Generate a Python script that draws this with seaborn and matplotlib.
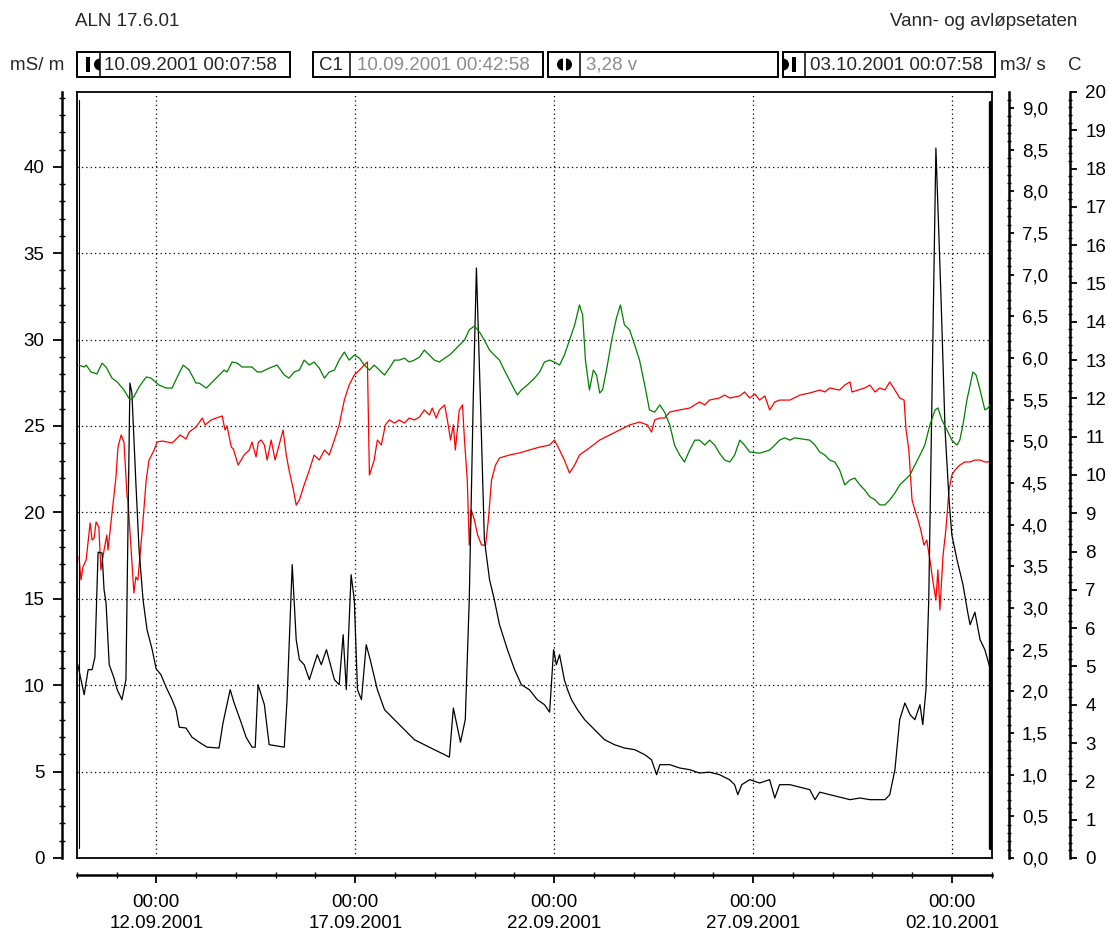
import pandas as pd
import numpy as np
import seaborn as sns
import matplotlib.pyplot as plt
import matplotlib.dates as mdates
from matplotlib.ticker import MultipleLocator, FuncFormatter, FixedLocator
from matplotlib.patches import Rectangle, Wedge

# time of each reading, days after 10.09.2001 00:07:58
t_flow = [0.02, 0.18, 0.28, 0.38, 0.45, 0.53, 0.63, 0.68, 0.73, 0.81,
          0.93, 1.01, 1.13, 1.23, 1.33, 1.38, 1.48, 1.56, 1.66, 1.76,
          1.89, 1.99, 2.11, 2.24, 2.39, 2.49, 2.57, 2.74, 2.89, 3.07,
          3.27, 3.57, 3.67, 3.85, 3.95, 4.13, 4.25, 4.40, 4.48, 4.55,
          4.71, 4.83, 5.21, 5.28, 5.41, 5.51, 5.59, 5.71, 5.84, 6.04,
          6.14, 6.27, 6.47, 6.59, 6.69, 6.77, 6.89, 6.97, 7.05, 7.15,
          7.27, 7.37, 7.55, 7.73, 7.98, 8.23, 8.48, 8.73, 8.98, 9.24,
          9.36, 9.46, 9.64, 9.76, 9.86, 9.96, 10.04, 10.14, 10.24, 10.37,
          10.49, 10.62, 10.82, 11.00, 11.17, 11.37, 11.57, 11.75, 11.88, 11.98,
          12.05, 12.13, 12.25, 12.33, 12.43, 12.58, 12.76, 13.01, 13.26, 13.51,
          13.76, 14.02, 14.27, 14.44, 14.57, 14.65, 14.90, 15.15, 15.40, 15.65,
          15.90, 16.15, 16.40, 16.53, 16.61, 16.71, 16.91, 17.16, 17.41, 17.54,
          17.66, 17.92, 18.17, 18.42, 18.55, 18.67, 18.92, 19.17, 19.43, 19.68,
          19.93, 20.31, 20.43, 20.56, 20.68, 20.81, 20.94, 21.06, 21.19, 21.26,
          21.34, 21.41, 21.49, 21.59, 21.72, 21.82, 21.92, 21.99, 22.12, 22.27,
          22.40, 22.45, 22.57, 22.70, 22.82, 22.95]
flow = [2.32, 1.96, 2.26, 2.26, 2.41, 3.67, 3.66, 3.22, 3.06, 2.32,
        2.16, 2.02, 1.90, 2.14, 5.70, 5.58, 4.50, 3.70, 3.10, 2.74,
        2.50, 2.27, 2.20, 2.05, 1.90, 1.78, 1.57, 1.56, 1.45, 1.39,
        1.33, 1.32, 1.62, 2.02, 1.86, 1.62, 1.45, 1.33, 1.33, 2.08,
        1.84, 1.36, 1.33, 1.90, 3.52, 2.62, 2.38, 2.32, 2.14, 2.44,
        2.32, 2.50, 2.14, 2.08, 2.68, 2.02, 3.40, 3.10, 2.02, 1.90,
        2.56, 2.38, 2.02, 1.78, 1.66, 1.54, 1.42, 1.36, 1.30, 1.24,
        1.21, 1.80, 1.39, 1.66, 3.10, 5.50, 7.08, 5.50, 3.82, 3.34,
        3.10, 2.80, 2.50, 2.26, 2.08, 2.02, 1.90, 1.84, 1.75, 2.50,
        2.32, 2.44, 2.14, 2.02, 1.90, 1.78, 1.66, 1.54, 1.42, 1.36,
        1.32, 1.30, 1.24, 1.18, 1.00, 1.12, 1.12, 1.08, 1.06, 1.02,
        1.03, 1.00, 0.94, 0.88, 0.76, 0.88, 0.94, 0.90, 0.94, 0.72,
        0.88, 0.88, 0.85, 0.82, 0.70, 0.79, 0.76, 0.73, 0.70, 0.72,
        0.70, 0.70, 0.76, 1.06, 1.66, 1.86, 1.72, 1.66, 1.84, 1.60,
        2.02, 3.10, 5.50, 8.52, 6.70, 5.14, 4.30, 3.88, 3.58, 3.28,
        2.92, 2.80, 2.95, 2.62, 2.50, 2.28]

t_cond = [0.05, 0.10, 0.15, 0.23, 0.33, 0.38, 0.43, 0.48, 0.55, 0.60,
          0.68, 0.75, 0.78, 0.88, 0.98, 1.03, 1.11, 1.18, 1.26, 1.28,
          1.36, 1.43, 1.48, 1.53, 1.64, 1.74, 1.81, 1.94, 2.01, 2.14,
          2.39, 2.47, 2.59, 2.74, 2.82, 2.99, 3.15, 3.22, 3.37, 3.50,
          3.65, 3.72, 3.77, 3.88, 3.93, 4.05, 4.20, 4.33, 4.40, 4.50,
          4.56, 4.63, 4.71, 4.78, 4.88, 4.98, 5.08, 5.18, 5.26, 5.33,
          5.44, 5.51, 5.59, 5.71, 5.84, 5.96, 6.09, 6.22, 6.34, 6.47,
          6.59, 6.72, 6.84, 6.97, 7.10, 7.22, 7.30, 7.35, 7.47, 7.55,
          7.65, 7.75, 7.85, 7.98, 8.10, 8.23, 8.35, 8.48, 8.61, 8.73,
          8.86, 8.93, 9.03, 9.11, 9.24, 9.31, 9.39, 9.46, 9.51, 9.56,
          9.61, 9.69, 9.74, 9.81, 9.86, 9.91, 9.99, 10.07, 10.17, 10.27,
          10.34, 10.42, 10.52, 10.62, 10.87, 11.12, 11.37, 11.63, 11.88, 12.00,
          12.13, 12.25, 12.38, 12.51, 12.63, 12.88, 13.14, 13.39, 13.64, 13.89,
          14.14, 14.34, 14.44, 14.52, 14.65, 14.77, 14.90, 15.15, 15.40, 15.65,
          15.78, 15.90, 16.15, 16.28, 16.41, 16.66, 16.78, 16.91, 17.04, 17.16,
          17.29, 17.41, 17.54, 17.66, 17.92, 18.17, 18.42, 18.67, 18.80, 18.92,
          19.17, 19.30, 19.43, 19.48, 19.63, 19.80, 19.93, 20.06, 20.18, 20.31,
          20.43, 20.56, 20.68, 20.79, 20.84, 20.91, 20.99, 21.06, 21.14, 21.21,
          21.29, 21.36, 21.44, 21.51, 21.59, 21.64, 21.69, 21.77, 21.84, 21.92,
          21.99, 22.07, 22.19, 22.32, 22.45, 22.57, 22.70, 22.82, 22.95]
cond = [17.42, 16.09, 16.84, 17.25, 19.39, 18.40, 18.52, 19.44, 19.15, 16.67,
        17.82, 18.69, 17.82, 19.97, 22.05, 23.78, 24.48, 24.07, 20.89, 20.72,
        17.82, 15.34, 16.26, 16.09, 18.98, 21.88, 23.03, 23.61, 24.07, 24.13,
        24.02, 24.19, 24.48, 24.25, 24.65, 24.94, 25.46, 25.06, 25.35, 25.46,
        25.58, 24.77, 25.00, 23.78, 23.67, 22.74, 23.32, 23.61, 24.07, 23.21,
        24.07, 24.19, 23.90, 23.03, 24.19, 23.03, 23.90, 24.77, 23.32, 22.45,
        21.30, 20.43, 20.72, 21.59, 22.45, 23.32, 23.03, 23.61, 23.32, 24.19,
        25.06, 26.50, 27.37, 27.95, 28.24, 28.53, 28.70, 22.16, 23.03, 24.19,
        23.90, 25.06, 25.35, 25.17, 25.35, 25.17, 25.46, 25.35, 25.52, 25.93,
        25.64, 26.04, 25.46, 25.93, 26.22, 25.35, 24.19, 25.06, 23.61, 24.77,
        25.93, 26.22, 24.19, 21.88, 18.11, 20.14, 19.56, 18.69, 18.11, 18.11,
        19.56, 21.88, 22.74, 23.15, 23.32, 23.44, 23.61, 23.78, 23.90, 24.19,
        23.61, 23.03, 22.28, 22.74, 23.32, 23.73, 24.19, 24.48, 24.77, 25.06,
        25.23, 25.06, 24.65, 25.35, 25.46, 25.46, 25.81, 25.93, 26.04, 26.39,
        26.22, 26.50, 26.62, 26.79, 26.62, 26.74, 26.97, 26.62, 26.85, 26.50,
        26.74, 25.93, 26.39, 26.50, 26.50, 26.79, 26.91, 27.08, 26.97, 27.20,
        27.08, 27.37, 27.55, 26.97, 27.08, 27.20, 27.37, 26.97, 27.20, 27.08,
        27.55, 27.08, 26.62, 26.50, 24.77, 23.61, 20.72, 20.14, 19.56, 18.98,
        18.11, 18.40, 17.25, 16.09, 14.93, 16.67, 14.35, 17.53, 18.98, 21.30,
        22.16, 22.45, 22.74, 22.92, 22.92, 23.03, 23.03, 22.92, 22.92]

t_temp = [0.05, 0.18, 0.23, 0.35, 0.50, 0.63, 0.73, 0.88, 1.01, 1.18,
          1.33, 1.43, 1.56, 1.74, 1.86, 2.06, 2.24, 2.39, 2.52, 2.67,
          2.82, 2.99, 3.07, 3.25, 3.50, 3.70, 3.77, 3.90, 4.03, 4.15,
          4.40, 4.53, 4.63, 4.83, 5.03, 5.21, 5.33, 5.46, 5.59, 5.71,
          5.84, 5.96, 6.09, 6.22, 6.34, 6.47, 6.59, 6.72, 6.84, 6.97,
          7.10, 7.22, 7.35, 7.47, 7.60, 7.73, 7.85, 7.98, 8.10, 8.23,
          8.35, 8.48, 8.61, 8.73, 8.86, 8.98, 9.11, 9.24, 9.36, 9.49,
          9.61, 9.74, 9.86, 9.99, 10.12, 10.24, 10.37, 10.49, 10.62, 10.74,
          10.87, 11.00, 11.07, 11.17, 11.32, 11.50, 11.63, 11.75, 11.88, 12.00,
          12.13, 12.25, 12.38, 12.51, 12.63, 12.71, 12.78, 12.88, 12.98, 13.06,
          13.14, 13.21, 13.31, 13.44, 13.56, 13.66, 13.76, 13.89, 14.02, 14.14,
          14.27, 14.39, 14.52, 14.65, 14.77, 14.90, 15.02, 15.15, 15.27, 15.40,
          15.53, 15.65, 15.78, 15.90, 16.03, 16.15, 16.28, 16.41, 16.53, 16.66,
          16.78, 16.91, 17.16, 17.41, 17.54, 17.66, 17.79, 17.92, 18.04, 18.42,
          18.55, 18.67, 18.80, 18.92, 19.05, 19.17, 19.30, 19.43, 19.55, 19.68,
          19.80, 19.93, 20.06, 20.18, 20.31, 20.43, 20.56, 20.68, 20.81, 20.94,
          21.06, 21.19, 21.31, 21.44, 21.57, 21.64, 21.74, 21.87, 21.99, 22.12,
          22.19, 22.27, 22.37, 22.45, 22.52, 22.60, 22.70, 22.82, 22.90, 22.95]
temp = [12.87, 12.82, 12.87, 12.69, 12.64, 12.92, 12.82, 12.53, 12.43, 12.22,
        11.96, 12.04, 12.30, 12.56, 12.53, 12.35, 12.27, 12.27, 12.56, 12.87,
        12.74, 12.40, 12.40, 12.27, 12.53, 12.74, 12.69, 12.95, 12.92, 12.82,
        12.82, 12.69, 12.69, 12.79, 12.87, 12.61, 12.53, 12.69, 12.74, 13.00,
        12.87, 12.95, 12.79, 12.53, 12.69, 12.74, 13.00, 13.21, 13.00, 13.13,
        13.05, 12.87, 12.74, 12.87, 12.74, 12.61, 12.79, 13.00, 13.00, 13.05,
        12.95, 13.00, 13.08, 13.26, 13.13, 13.00, 12.95, 13.05, 13.13, 13.26,
        13.39, 13.52, 13.79, 13.89, 13.73, 13.52, 13.26, 13.13, 13.00, 12.74,
        12.48, 12.22, 12.09, 12.22, 12.35, 12.53, 12.69, 12.95, 13.00, 12.95,
        12.87, 13.13, 13.52, 13.92, 14.44, 14.18, 13.00, 12.22, 12.74, 12.61,
        12.14, 12.22, 12.74, 13.52, 14.10, 14.44, 13.92, 13.79, 13.39, 13.00,
        12.35, 11.70, 11.64, 11.83, 11.64, 11.31, 10.78, 10.52, 10.34, 10.65,
        10.91, 10.91, 10.78, 10.91, 10.78, 10.57, 10.39, 10.34, 10.52, 10.91,
        10.78, 10.60, 10.57, 10.65, 10.78, 10.91, 10.97, 10.91, 10.97, 10.91,
        10.78, 10.60, 10.52, 10.39, 10.34, 10.13, 9.74, 9.87, 9.92, 9.74,
        9.61, 9.43, 9.35, 9.22, 9.22, 9.35, 9.53, 9.74, 9.87, 10.00,
        10.26, 10.52, 10.78, 11.31, 11.70, 11.75, 11.44, 11.17, 10.91, 10.78,
        10.91, 11.31, 11.96, 12.35, 12.69, 12.61, 12.22, 11.70, 11.75, 11.83]

start = pd.Timestamp('2001-09-10 00:07:58')
end = pd.Timestamp('2001-10-03 00:07:58')
cursor = pd.Timestamp('2001-09-10 00:42:58')

FS = 13.5


def to_time(days):
    return start + pd.to_timedelta(np.array(days), unit='D')


def comma(v, pos):
    return f'{v:.1f}'.replace('.', ',')


sns.set_theme(style='white')
plt.rcParams['font.family'] = ['Liberation Sans', 'DejaVu Sans']
plt.rcParams['font.size'] = FS

W, H = 1109, 936
fig = plt.figure(figsize=(W / 100, H / 100), dpi=100)
ax = fig.add_axes([77 / W, (H - 858) / H, 915 / W, 766 / H])

# conductivity on the main axes
sns.lineplot(x=to_time(t_cond), y=cond, ax=ax, color='#ff0000', lw=0.9, estimator=None)
ax.set_xlim(start, end)
ax.set_ylim(0, 766 / 17.28)
ax.xaxis.set_major_locator(mdates.DayLocator(bymonthday=[2, 12, 17, 22, 27]))
ax.yaxis.set_major_locator(MultipleLocator(5))
ax.grid(True, color='black', ls=(0, (1, 2.5)), lw=0.9)
ax.tick_params(which='both', length=0, labelleft=False, labelbottom=False)
ax.set_xlabel('')
ax.set_ylabel('')
for s in ax.spines.values():
    s.set_color('black')
    s.set_linewidth(1.3)

# cursor lines inside the box
ax.axvline(cursor + pd.Timedelta(hours=0.6), ymin=0.013, ymax=0.99, color='black', lw=0.8)
ax.axvline(end - pd.Timedelta(hours=1.4), ymin=0.013, ymax=0.987, color='black', lw=2.4)

# flow, m3/s
ax2 = ax.twinx()
sns.lineplot(x=to_time(t_flow), y=flow, ax=ax2, color='black', lw=0.9, estimator=None)
ax2.set_ylim(0, 766 / 83.33)

# temperature, C
ax3 = ax.twinx()
sns.lineplot(x=to_time(t_temp), y=temp, ax=ax3, color='#008000', lw=0.9, estimator=None)
ax3.set_ylim(0, 20)

for a, pos in [(ax2, 932 / 915), (ax3, 993 / 915)]:
    a.set_ylabel('')
    a.set_xlabel('')
    for s in ['left', 'top', 'bottom']:
        a.spines[s].set_visible(False)
    a.spines['right'].set_position(('axes', pos))
    a.spines['right'].set_color('black')
    a.spines['right'].set_linewidth(1.8)

ax2.yaxis.set_major_locator(MultipleLocator(0.5))
ax2.yaxis.set_minor_locator(MultipleLocator(0.1))
ax2.yaxis.set_major_formatter(FuncFormatter(comma))
ax2.tick_params(axis='y', which='major', direction='out', length=3.4, width=1.3, pad=6,
                colors='black', labelsize=FS, right=True)
ax2.tick_params(axis='y', which='minor', direction='inout', length=3.0, width=1.0, colors='black', right=True)

ax3.yaxis.set_major_locator(MultipleLocator(1))
ax3.yaxis.set_minor_locator(MultipleLocator(0.2))
ax3.yaxis.set_major_formatter(FuncFormatter(lambda v, p: f'{v:.0f}'))
ax3.tick_params(axis='y', which='major', direction='out', length=5.0, width=1.3, pad=6,
                colors='black', labelsize=FS, right=True)
ax3.tick_params(axis='y', which='minor', direction='inout', length=3.2, width=1.0, colors='black', right=True)

# left scale, mS/m
sy = ax.secondary_yaxis(-15 / 915)
sy.yaxis.set_major_locator(MultipleLocator(5))
sy.yaxis.set_minor_locator(MultipleLocator(1))
sy.yaxis.set_major_formatter(FuncFormatter(lambda v, p: f'{v:.0f}'))
sy.tick_params(which='major', direction='out', length=6.5, width=1.3, pad=6, colors='black', labelsize=FS)
sy.tick_params(which='minor', direction='inout', length=4.3, width=1.0, colors='black')
sy.spines['left'].set_linewidth(1.8)
sy.spines['left'].set_color('black')

# time scale under the box
sx = ax.secondary_xaxis(-17 / 766)
sx.xaxis.set_major_locator(mdates.DayLocator(bymonthday=[2, 12, 17, 22, 27]))
days = pd.date_range('2001-09-11', '2001-10-02', freq='D')
sx.xaxis.set_minor_locator(FixedLocator(mdates.date2num(list(days) + [start, end])))
sx.xaxis.set_major_formatter(mdates.DateFormatter('%H:%M\n%d.%m.%Y'))
sx.tick_params(which='major', direction='out', length=5.8, width=1.3, pad=8, colors='black', labelsize=FS)
sx.tick_params(which='minor', direction='inout', length=4.3, width=1.0, colors='black')
sx.spines['bottom'].set_linewidth(1.8)
sx.spines['bottom'].set_color('black')
for lbl in sx.get_xticklabels():
    lbl.set_horizontalalignment('center')
    lbl.set_linespacing(1.3)

# header strip
hdr = fig.add_axes([0, 0, 1, 1], zorder=5)
hdr.set_xlim(0, W)
hdr.set_ylim(H, 0)
hdr.axis('off')
hdr.patch.set_visible(False)

hdr.text(75, 22, 'ALN 17.6.01', ha='left', va='center')
hdr.text(1077, 22, 'Vann- og avløpsetaten', ha='right', va='center')
hdr.text(64, 65, 'mS/ m', ha='right', va='center')
hdr.text(1000, 65, 'm3/ s', ha='left', va='center')
hdr.text(1068, 65, 'C', ha='left', va='center')

boxes = [(77, 290, 100), (313, 543, 350), (548, 778, 580), (783, 995, 805)]
for x0, x1, xd in boxes:
    hdr.add_patch(Rectangle((x0, 52), x1 - x0, 25, fill=False, ec='black', lw=1.4))
    hdr.plot([xd, xd], [52, 77], color='black', lw=1.1)

hdr.add_patch(Rectangle((86, 57), 4, 15, fc='black', ec='none'))
hdr.add_patch(Wedge((100, 64.5), 6, 90, 270, fc='black', ec='none'))
hdr.add_patch(Wedge((563, 64.5), 6, 90, 270, fc='black', ec='none'))
hdr.add_patch(Wedge((566, 64.5), 6, -90, 90, fc='black', ec='none'))
hdr.add_patch(Wedge((783, 64.5), 6, -90, 90, fc='black', ec='none'))
hdr.add_patch(Rectangle((792, 57), 4, 15, fc='black', ec='none'))

hdr.text(104, 65, '10.09.2001 00:07:58', ha='left', va='center')
hdr.text(331, 65, 'C1', ha='center', va='center')
hdr.text(357, 65, '10.09.2001 00:42:58', ha='left', va='center', color='#8c8c8c')
hdr.text(586, 65, '3,28 v', ha='left', va='center', color='#8c8c8c')
hdr.text(810, 65, '03.10.2001 00:07:58', ha='left', va='center')

fig.savefig('out.png', dpi=100)
